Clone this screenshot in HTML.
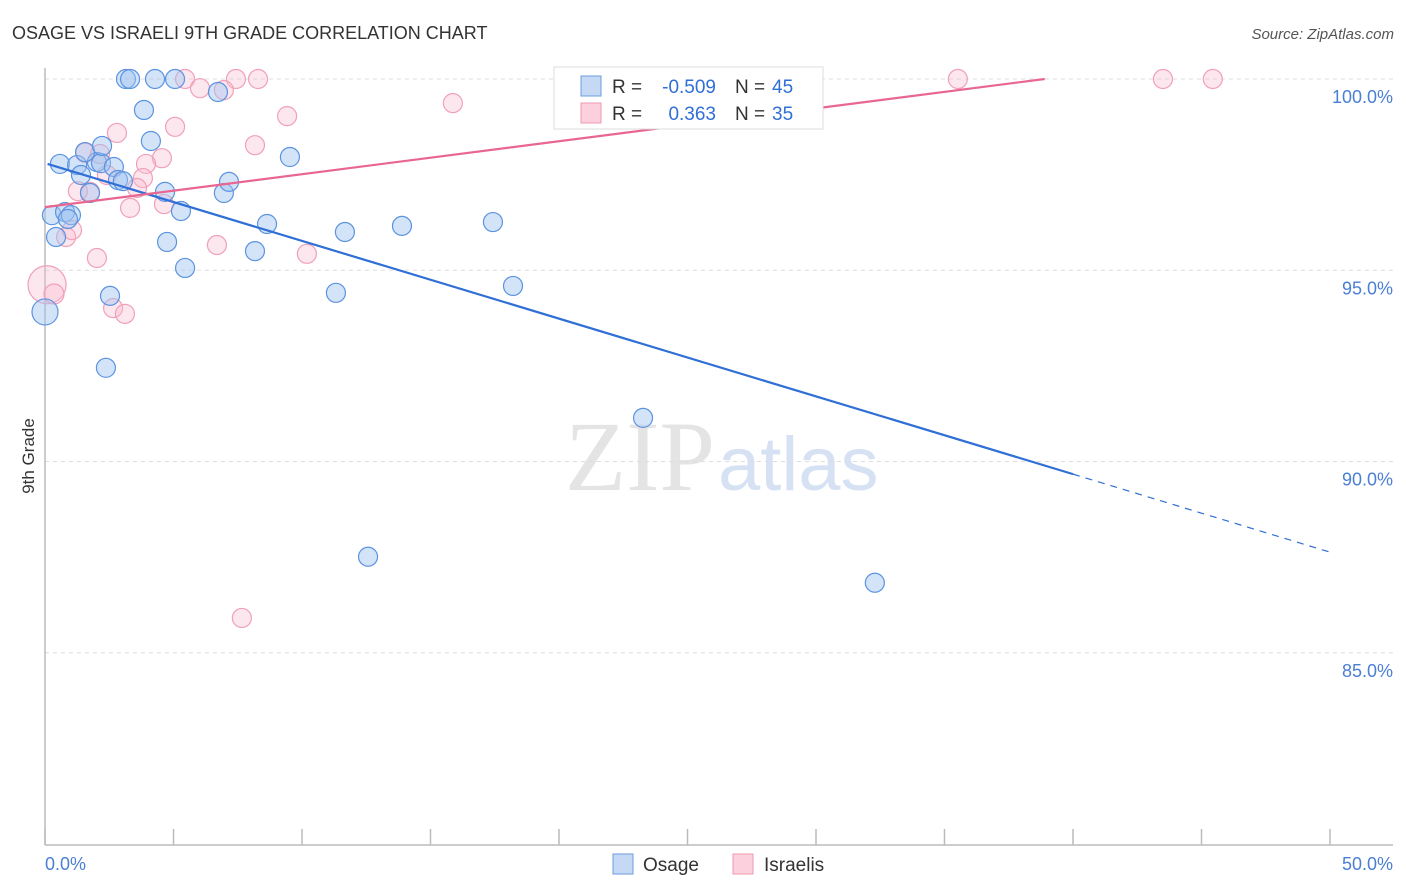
<!DOCTYPE html>
<html><head><meta charset="utf-8">
<style>
body{margin:0;background:#fff;font-family:"Liberation Sans",sans-serif;}
svg{display:block}
</style></head><body>
<svg width="1406" height="892">
<text x="12" y="39" font-size="18" fill="#333">OSAGE VS ISRAELI 9TH GRADE CORRELATION CHART</text>
<text x="1394" y="39" font-size="15" fill="#555" font-style="italic" text-anchor="end">Source: ZipAtlas.com</text>
<text x="715" y="490" font-size="100" fill="#e4e4e4" font-family="Liberation Serif,serif" text-anchor="end">ZIP</text>
<text x="718" y="490" font-size="76" fill="#d6e2f4">atlas</text>
<g id="grid"></g>
<g id="axes"></g>
<g id="pts"></g>
<g id="lines"></g>
<text x="34" y="456" font-size="17" fill="#333" transform="rotate(-90 34 456)" text-anchor="middle">9th Grade</text>
<g>
<rect x="554" y="67" width="269" height="62" fill="#fff" stroke="#ddd"/>
<rect x="581" y="76" width="20" height="20" fill="#c5d9f5" stroke="#6a9de0"/>
<rect x="581" y="103" width="20" height="20" fill="#fcd0dc" stroke="#ee9ab2"/>
<text x="612" y="93" font-size="19" fill="#333">R =</text>
<text x="716" y="93" font-size="19" fill="#2f6fd6" text-anchor="end">-0.509</text>
<text x="735" y="93" font-size="19" fill="#333">N =</text>
<text x="772" y="93" font-size="19" fill="#2f6fd6">45</text>
<text x="612" y="120" font-size="19" fill="#333">R =</text>
<text x="716" y="120" font-size="19" fill="#2f6fd6" text-anchor="end">0.363</text>
<text x="735" y="120" font-size="19" fill="#333">N =</text>
<text x="772" y="120" font-size="19" fill="#2f6fd6">35</text>
</g>
<g>
<rect x="613" y="854" width="20" height="20" fill="#c5d9f5" stroke="#6a9de0"/>
<text x="643" y="871" font-size="19" fill="#333">Osage</text>
<rect x="733" y="854" width="20" height="20" fill="#fcd0dc" stroke="#ee9ab2"/>
<text x="764" y="871" font-size="19" fill="#333">Israelis</text>
</g>
<text x="45" y="870" font-size="18" fill="#4a7fd4">0.0%</text>
<text x="1393" y="870" font-size="18" fill="#4a7fd4" text-anchor="end">50.0%</text>
</svg>
<script>
const yTicks=[100,95,90,85];
const yTickLabels=["100.0%","95.0%","90.0%","85.0%"];
const xTicks=[0,5,10,15,20,25,30,35,40,45,50];
const osageX=[3.15,3.31,4.28,5.06,6.73,3.85,4.12,0.58,1.25,2.02,2.18,2.68,1.56,2.22,1.40,2.84,3.03,4.67,6.96,7.16,9.53,0.27,0.78,1.01,0.43,0.89,1.75,4.75,5.29,8.64,11.67,13.89,17.43,5.45,8.17,11.32,18.21,2.53,0.0,2.37,23.27,12.57,32.29,22.68];
const osageY=[100,100,100,100,99.66,99.19,98.38,97.78,97.75,97.83,97.80,97.70,98.09,98.25,97.49,97.36,97.33,97.05,97.02,97.31,97.96,96.44,96.52,96.44,95.87,96.34,97.02,95.74,96.55,96.21,96.0,96.16,96.26,95.06,95.50,94.41,94.59,94.33,93.91,92.45,91.14,87.51,86.83,99.66];
const israeliX=[5.45,7.43,8.29,6.03,6.96,35.52,43.5,45.44,15.87,9.42,2.80,5.06,8.17,1.56,2.14,4.55,3.93,3.81,2.41,3.58,1.28,1.75,3.31,4.63,6.69,10.19,0.82,1.05,2.02,0.08,0.35,2.65,3.11,7.66];
const israeliY=[100,100,100,99.76,99.71,100,100,100,99.37,99.03,98.59,98.75,98.27,98.07,98.04,97.93,97.78,97.41,97.49,97.15,97.07,97.05,96.63,96.73,95.66,95.43,95.87,96.05,95.32,94.62,94.38,94.01,93.86,85.91];
const israeliSize=[9.5,9.5,9.5,9.5,9.5,9.5,9.5,9.5,9.5,9.5,9.5,9.5,9.5,9.5,9.5,9.5,9.5,9.5,9.5,9.5,9.5,9.5,9.5,9.5,9.5,9.5,9.5,9.5,9.5,19,10,9.5,9.5,9.5];
const osageTrend=[[0.1,97.78],[40,89.67],[50,87.63]];
const israeliTrend=[[0,96.65],[38.9,100]];
const sx=v=>45+v*25.7;
const sy=v=>79+(100-v)*38.25;
const NS="http://www.w3.org/2000/svg";
function mk(tag,attrs,parent){const e=document.createElementNS(NS,tag);for(const k in attrs)e.setAttribute(k,attrs[k]);document.getElementById(parent).appendChild(e);return e;}
yTicks.forEach((t,i)=>{
 const l=mk('line',{x1:45,x2:1393,y1:sy(t),y2:sy(t),stroke:'#ddd','stroke-dasharray':'4,4'},'grid');
 
 
 const tx=mk('text',{x:1393,y:sy(t)+24,'font-size':18,fill:'#4a7fd4','text-anchor':'end'},'grid');
 tx.textContent=yTickLabels[i];
 
 
});
const ax=mk('line',{x1:45,x2:45,y1:68,y2:845,stroke:'#bbb','stroke-width':1.5},'axes');


const bx=mk('line',{x1:45,x2:1393,y1:845,y2:845,stroke:'#bbb','stroke-width':1.5},'axes');


xTicks.forEach(t=>{
 const l=mk('line',{x1:sx(t),x2:sx(t),y1:829,y2:845,stroke:'#bbb','stroke-width':1.5},'axes');
 
 
});
israeliX.forEach((x,i)=>{
 const c=mk('circle',{cx:sx(x),cy:sy(israeliY[i]),r:israeliSize[i],fill:'rgba(248,185,205,0.35)',stroke:'#f0a0b8','stroke-width':1.2},'pts');
 
 
});
osageX.forEach((x,i)=>{
 const c=mk('circle',{cx:sx(x),cy:sy(osageY[i]),r:(i==38?13:9.5),fill:'rgba(160,195,240,0.45)',stroke:'#5b93e0','stroke-width':1.2},'pts');
 
 
});
const bl=mk('line',{x1:sx(osageTrend[0][0]),y1:sy(osageTrend[0][1]),x2:sx(osageTrend[1][0]),y2:sy(osageTrend[1][1]),stroke:'#2f6fd6','stroke-width':2.2},'lines');


const bd=mk('line',{x1:sx(osageTrend[1][0]),y1:sy(osageTrend[1][1]),x2:sx(osageTrend[2][0]),y2:sy(osageTrend[2][1]),stroke:'#2f6fd6','stroke-width':1.2,'stroke-dasharray':'7,6'},'lines');


const pl=mk('line',{x1:sx(israeliTrend[0][0]),y1:sy(israeliTrend[0][1]),x2:sx(israeliTrend[1][0]),y2:sy(israeliTrend[1][1]),stroke:'#e86690','stroke-width':2.2},'lines');


</script>
</body></html>
